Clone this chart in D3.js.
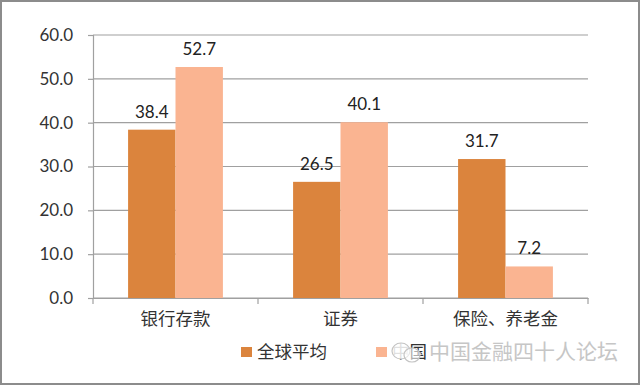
<!DOCTYPE html>
<html>
<head>
<meta charset="utf-8">
<script src="https://d3js.org/d3.v7.min.js"></script>
<style>
  html, body { margin: 0; padding: 0; background: #fff; }
  text { font-family: "Noto Sans CJK SC", sans-serif; }
  .num { font-family: Lato, "Noto Sans", sans-serif; }
</style>
</head>
<body>
<svg id="chart" width="640" height="385"></svg>
<script>
const categories = ["银行存款", "证券", "保险、养老金"];
const seriesNames = ["全球平均", "中国"];
const globalValues = [38.4, 26.5, 31.7];
const chinaValues = [52.7, 40.1, 7.2];
const yTicks = [0, 10, 20, 30, 40, 50, 60];
const seriesColors = ["#db843d", "#fab491"];
const watermark = "中国金融四十人论坛";

const svg = d3.select("#chart");
const margins = { top: 35, right: 52, bottom: 87, left: 93 };
const width = 640, height = 385;

// grey frame round the picture
svg.append("rect")
    .attr("x", 1).attr("y", 1)
    .attr("width", width - 2).attr("height", height - 2)
    .attr("fill", "white")
    .attr("stroke", "#8c8c8c")
    .attr("stroke-width", 2);

const x = d3.scaleBand()
    .domain(categories)
    .range([margins.left, width - margins.right]);

const inner = d3.scaleBand()
    .domain(seriesNames)
    .range([0, x.bandwidth()])
    .paddingOuter(0.74);

const y = d3.scaleLinear()
    .domain([0, 60])
    .range([height - margins.bottom, margins.top]);

const axisColor = "#a0a0a0";

// y axis with gridlines
const yAxis = svg.append("g")
    .attr("transform", `translate(${margins.left},0)`)
    .call(d3.axisLeft(y).tickValues(yTicks).tickFormat(d3.format(".1f")).tickSize(5).tickPadding(15));
yAxis.select(".domain").attr("stroke", axisColor).attr("stroke-width", 1.2);
yAxis.selectAll(".tick line").attr("stroke", axisColor).attr("stroke-width", 1.2);
yAxis.selectAll(".tick text")
    .attr("class", "num")
    .attr("fill", "#333")
    .style("font-size", "17px");

svg.append("g")
    .selectAll("line")
    .data(yTicks)
    .join("line")
    .attr("x1", margins.left)
    .attr("x2", width - margins.right)
    .attr("y1", d => y(d))
    .attr("y2", d => y(d))
    .attr("stroke", axisColor)
    .attr("stroke-width", 1.2);

// bars
const series = [globalValues, chinaValues];
series.forEach((values, s) => {
    const g = svg.append("g");
    g.selectAll("rect")
        .data(values)
        .join("rect")
        .attr("x", (d, i) => x(categories[i]) + inner(seriesNames[s]))
        .attr("y", d => y(d))
        .attr("width", inner.bandwidth())
        .attr("height", d => y(0) - y(d))
        .attr("fill", seriesColors[s]);
    g.selectAll("text")
        .data(values)
        .join("text")
        .attr("class", "num")
        .attr("x", (d, i) => x(categories[i]) + inner(seriesNames[s]) + inner.bandwidth() / 2)
        .attr("y", d => y(d) - 12)
        .attr("text-anchor", "middle")
        .attr("fill", "#222")
        .style("font-size", "17px")
        .text(d => d.toFixed(1));
});

// x axis
const xAxis = svg.append("g")
    .attr("transform", `translate(0,${y(0)})`)
    .call(d3.axisBottom(x).tickSize(0).tickPadding(15));
xAxis.select(".domain").attr("stroke", axisColor).attr("stroke-width", 1.2);
xAxis.selectAll(".tick text")
    .attr("fill", "#333")
    .style("font-size", "17.5px");

svg.append("g")
    .selectAll("line")
    .data(d3.range(categories.length + 1))
    .join("line")
    .attr("x1", i => margins.left + i * x.bandwidth())
    .attr("x2", i => margins.left + i * x.bandwidth())
    .attr("y1", y(0))
    .attr("y2", y(0) + 6)
    .attr("stroke", axisColor)
    .attr("stroke-width", 1.2);

// legend
const legendX = [241, 376];
const legend = svg.append("g");
seriesNames.forEach((name, i) => {
    legend.append("rect")
        .attr("x", legendX[i]).attr("y", 347)
        .attr("width", 11).attr("height", 10)
        .attr("fill", seriesColors[i]);
    legend.append("text")
        .attr("x", legendX[i] + 16).attr("y", 358)
        .attr("fill", "#333")
        .style("font-size", "17.5px")
        .text(name);
});

// watermark over the legend
const wm = svg.append("g");
wm.append("ellipse")
    .attr("cx", 401).attr("cy", 351).attr("rx", 9).attr("ry", 8)
    .attr("fill", "white").attr("fill-opacity", 0.85)
    .attr("stroke", "#c4c4c4").attr("stroke-width", 1.2);
wm.append("ellipse")
    .attr("cx", 412).attr("cy", 355).attr("rx", 8).attr("ry", 7)
    .attr("fill", "white").attr("fill-opacity", 0.6)
    .attr("stroke", "#c4c4c4").attr("stroke-width", 1.2);
wm.append("text")
    .attr("x", 429).attr("y", 358.5)
    .attr("fill", "#c6c6c6")
    .style("font-size", "21px")
    .text(watermark);
</script>
</body>
</html>
